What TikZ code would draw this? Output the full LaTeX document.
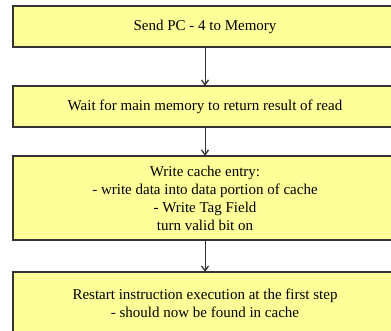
\documentclass[tikz,border=0pt]{standalone}
\usepackage{fontspec}
\setmainfont{Liberation Serif}
\usetikzlibrary{arrows.meta}
\definecolor{boxfill}{HTML}{FFFF99}
\definecolor{boxline}{HTML}{333333}
\tikzset{
  stepbox/.style={draw=boxline, line width=1.4pt, fill=boxfill},
  steptext/.style={align=center, font=\fontsize{15}{18}\selectfont, text=black, inner sep=0pt},
  flow/.style={draw=boxline, line width=1pt, -{Straight Barb[length=5pt,width=7pt,line width=1.3pt]}}
}
\begin{document}
\begin{tikzpicture}[x=1pt,y=-1pt]
  \useasboundingbox (0,0) rectangle (391,331);
  \clip (0,0) rectangle (391,331);
  % step boxes
  \path[stepbox] (13,6) rectangle (397,47);
  \path[stepbox] (13,86) rectangle (397,127);
  \path[stepbox] (13,156) rectangle (397,240);
  \path[stepbox] (13,272) rectangle (397,340);
  \coordinate (b1) at (205,47);
  \coordinate (t2) at (205,86);
  \coordinate (b2) at (205,127);
  \coordinate (t3) at (205,156);
  \coordinate (b3) at (205,240);
  \coordinate (t4) at (205,272);
  % labels
  \node[steptext] (s1) at (205,27) {Send PC - 4 to Memory};
  \node[steptext] (s2) at (205,107) {Wait for main memory to return result of read};
  \node[steptext] (s3) at (205,198) {Write cache entry:\\- write data into data portion of cache\\- Write Tag Field\\turn valid bit on};
  \node[steptext] (s4) at (205,303) {Restart instruction execution at the first step\\- should now be found in cache};
  % connectors
  \draw[flow] (b1) -- (t2);
  \draw[flow] (b2) -- (t3);
  \draw[flow] (b3) -- (t4);
\end{tikzpicture}
\end{document}
